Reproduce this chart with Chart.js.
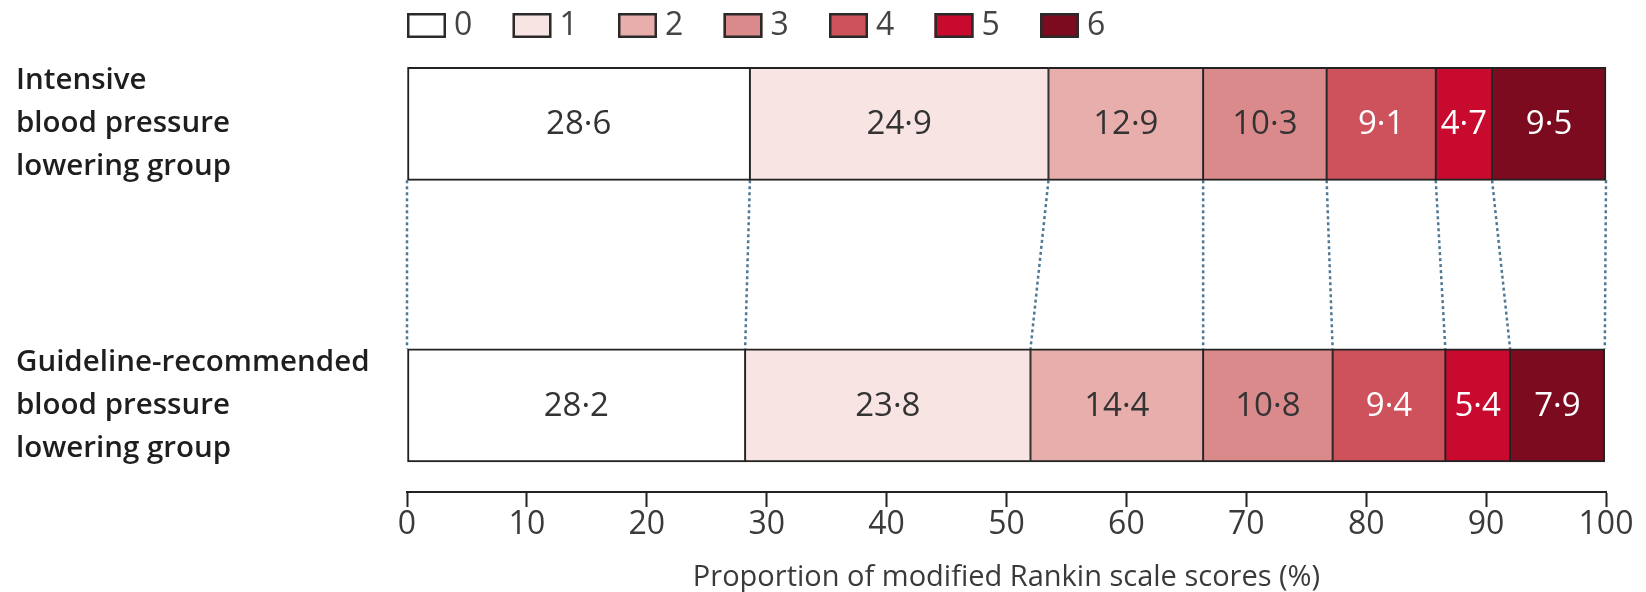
<!DOCTYPE html>
<html>
<head>
<meta charset="utf-8">
<script src="https://cdn.jsdelivr.net/npm/chart.js@4.4.1/dist/chart.umd.min.js"></script>
<style>
  html, body { margin: 0; padding: 0; background: #fff; }
  #wrap { width: 1646px; height: 592px; }
</style>
</head>
<body>
<div id="wrap"><canvas id="chart"></canvas></div>
<script>
// --- Data ---
const groupLabels = [
  ['Intensive', 'blood pressure', 'lowering group'],
  ['Guideline-recommended', 'blood pressure', 'lowering group']
];
const mrsScores = ['0', '1', '2', '3', '4', '5', '6'];
const intensiveValues = [28.6, 24.9, 12.9, 10.3, 9.1, 4.7, 9.5];
const guidelineValues = [28.2, 23.8, 14.4, 10.8, 9.4, 5.4, 7.9];
const axisTitle = 'Proportion of modified Rankin scale scores (%)';

// --- Styles ---
const scoreColors = ['#ffffff', '#f9e4e4', '#e8aeac', '#db8a8b', '#cd525c', '#c70a2e', '#7c0b20'];
const labelColors = ['#333', '#333', '#333', '#333', '#fff', '#fff', '#fff'];
const digitFont = '"Liberation Sans Narrow", "Open Sans", sans-serif';
const textFont = '"Open Sans", sans-serif';

// bar segment values written in the middle of each bar
const segmentLabels = {
  id: 'segmentLabels',
  afterDatasetsDraw(chart) {
    const ctx = chart.ctx;
    ctx.save();
    ctx.font = '33px ' + digitFont;
    ctx.textAlign = 'center';
    ctx.textBaseline = 'middle';
    chart.data.datasets.forEach((ds, i) => {
      chart.getDatasetMeta(i).data.forEach((bar, j) => {
        ctx.fillStyle = labelColors[i];
        ctx.fillText(ds.data[j].toFixed(1).replace('.', '\u00b7'), (bar.x + bar.base) / 2, bar.y + 1);
      });
    });
    ctx.restore();
  }
};

// dotted lines joining the segment edges of the two bars
const connectors = {
  id: 'connectors',
  beforeDatasetsDraw(chart) {
    const { ctx, scales: { x } } = chart;
    const upper = chart.getDatasetMeta(0).data[0];
    const lower = chart.getDatasetMeta(0).data[1];
    const y1 = upper.y + upper.height / 2;
    const y2 = lower.y - lower.height / 2;
    let a = 0, b = 0;
    const pairs = [[0, 0]];
    intensiveValues.forEach((v, i) => { a += v; b += guidelineValues[i]; pairs.push([a, b]); });
    ctx.save();
    ctx.strokeStyle = '#4f7894';
    ctx.lineWidth = 2.5;
    ctx.setLineDash([3, 3]);
    pairs.forEach(([p, q]) => {
      ctx.beginPath();
      ctx.moveTo(x.getPixelForValue(p), y1);
      ctx.lineTo(x.getPixelForValue(q), y2);
      ctx.stroke();
    });
    ctx.restore();
  }
};

// legend row above the plot, starting at the plot's left edge
const scoreLegend = {
  id: 'scoreLegend',
  afterDraw(chart) {
    const { ctx, chartArea } = chart;
    ctx.save();
    ctx.font = '32px ' + digitFont;
    ctx.textAlign = 'left';
    ctx.textBaseline = 'middle';
    mrsScores.forEach((s, i) => {
      const x = chartArea.left + i * 105.5;
      ctx.fillStyle = scoreColors[i];
      ctx.fillRect(x, 13, 39, 25);
      ctx.strokeStyle = '#2a2a2a';
      ctx.lineWidth = 2.5;
      ctx.strokeRect(x + 1.25, 14.25, 36.5, 22.5);
      ctx.fillStyle = '#444';
      ctx.fillText(s, x + 47, 26);
    });
    ctx.restore();
  }
};

const datasets = mrsScores.map((s, i) => ({
  label: s,
  data: [intensiveValues[i], guidelineValues[i]],
  backgroundColor: scoreColors[i],
  borderColor: '#222',
  borderWidth: { top: 2, bottom: 2, left: i === 0 ? 2 : 1.3, right: i === 6 ? 2 : 1.3 },
  borderSkipped: false,
  barThickness: 113,
  clip: false
}));

new Chart(document.getElementById('chart'), {
  type: 'bar',
  data: { labels: [0, 1], datasets },
  options: {
    indexAxis: 'y',
    responsive: true,
    maintainAspectRatio: false,
    animation: false,
    layout: { padding: { top: 70, left: 16, right: 40, bottom: 0 } },
    plugins: { legend: { display: false }, tooltip: { enabled: false } },
    scales: {
      x: {
        type: 'linear',
        stacked: true,
        min: 0, max: 100,
        afterFit: (s) => { s.height = 100; },
        grid: { drawOnChartArea: false, drawTicks: true, tickLength: 15, tickWidth: 2, tickColor: '#222' },
        border: { display: true, color: '#222', width: 2 },
        ticks: { stepSize: 10, padding: 2, color: '#3a3a3a', font: { family: digitFont, size: 32, lineHeight: 1 } },
        title: { display: true, text: axisTitle, color: '#3a3a3a', padding: { top: 0, bottom: 0 },
                 font: { family: textFont, size: 29, lineHeight: 1 } }
      },
      y: {
        type: 'linear',
        stacked: true,
        reverse: true,
        offset: false,
        min: -0.1911, max: 1.308,
        afterFit: (s) => { s.width = 391; },
        afterBuildTicks: (s) => { s.ticks = groupLabels.map((_, i) => ({ value: i })); },
        grid: { display: false },
        border: { display: false },
        ticks: {
          crossAlign: 'far',
          color: '#1e1e1e',
          font: { family: textFont, size: 29.5, weight: '600', lineHeight: 1.46 },
          callback: (v) => groupLabels[v] || ''
        }
      }
    }
  },
  plugins: [connectors, segmentLabels, scoreLegend]
});
</script>
</body>
</html>
